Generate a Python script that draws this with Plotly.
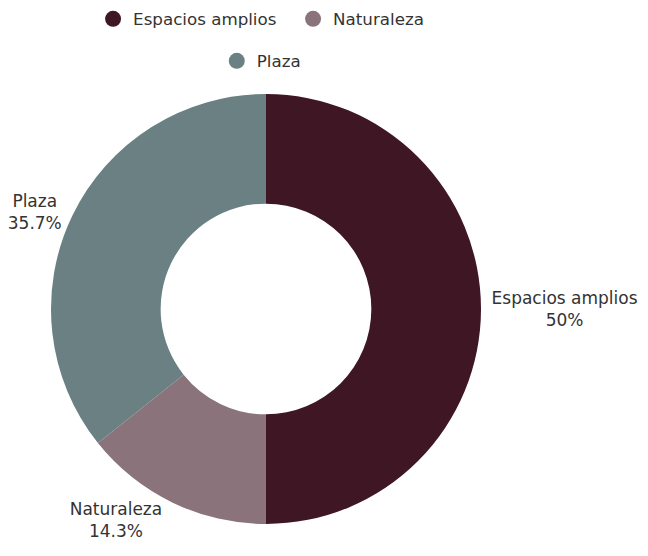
import plotly.graph_objects as go

labels = ["Espacios amplios", "Naturaleza", "Plaza"]
values = [7, 2, 5]
colors = ["#3f1624", "#8b737b", "#6a8083"]
legend_ids = ["legend", "legend", "legend2"]

FONT = "DejaVu Sans"
TEXT = "#333333"

fig = go.Figure()
fig.add_trace(go.Pie(
    labels=labels, values=values, hole=0.49, sort=False, direction="clockwise",
    rotation=0, marker=dict(colors=colors, line=dict(width=0)),
    textinfo="label+percent", textposition="outside",
    textfont=dict(family=FONT, size=17, color=TEXT),
    showlegend=False,
    domain=dict(x=[(258 - 215) / 648, (258 + 215) / 648],
                y=[1 - (301 + 215) / 556, 1 - (301 - 215) / 556]),
))
for lab, col, lg in zip(labels, colors, legend_ids):
    fig.add_trace(go.Scatter(
        x=[None], y=[None], mode="markers", name=lab,
        marker=dict(color=col, size=17, symbol="circle"),
        legend=lg, showlegend=True,
    ))

fig.update_layout(
    width=648, height=556,
    margin=dict(l=0, r=0, t=0, b=0, autoexpand=False),
    paper_bgcolor="white", plot_bgcolor="white",
    xaxis=dict(visible=False), yaxis=dict(visible=False),
    font=dict(family=FONT, size=15, color=TEXT),
    legend=dict(orientation="h", x=0.1313, xanchor="left", y=1 - 11 / 556, yanchor="middle",
                font=dict(family=FONT, size=16.7, color=TEXT), itemwidth=30,
                entrywidth=155, entrywidthmode="pixels"),
    legend2=dict(orientation="h", x=0.3222, xanchor="left", y=1 - 53 / 556, yanchor="middle",
                 font=dict(family=FONT, size=16.7, color=TEXT), itemwidth=30),
)
fig.write_html("out.html")
